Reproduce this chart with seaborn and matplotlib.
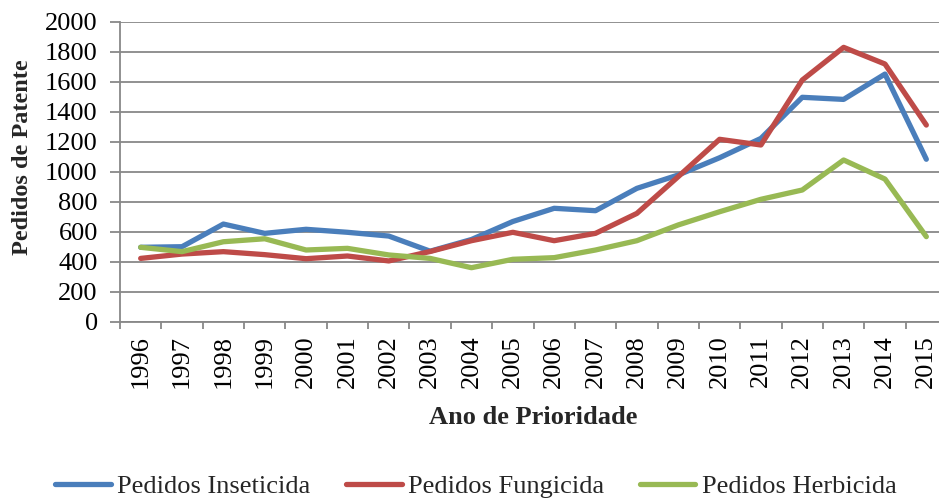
import matplotlib
matplotlib.use("Agg")
import matplotlib.pyplot as plt
import seaborn as sns
import pandas as pd
import numpy as np
from matplotlib.ticker import FixedLocator, MultipleLocator

years = ["1996", "1997", "1998", "1999", "2000", "2001", "2002", "2003", "2004", "2005",
         "2006", "2007", "2008", "2009", "2010", "2011", "2012", "2013", "2014", "2015"]
inseticida = [496, 500, 651, 589, 616, 596, 571, 470, 548, 668,
              756, 740, 889, 978, 1093, 1222, 1496, 1482, 1651, 1083]
fungicida = [422, 451, 467, 447, 420, 438, 405, 468, 540, 596,
             540, 589, 722, 967, 1216, 1178, 1611, 1829, 1718, 1311]
herbicida = [496, 467, 533, 553, 478, 489, 445, 422, 360, 416,
             427, 478, 540, 645, 733, 816, 878, 1078, 951, 567]
series_names = ["Pedidos Inseticida", "Pedidos Fungicida", "Pedidos Herbicida"]
colors = ["#4A7EBB", "#BE4B48", "#98B954"]

df = pd.DataFrame({
    "pos": list(range(len(years))) * 3,
    "valor": inseticida + fungicida + herbicida,
    "serie": [series_names[0]] * len(years) + [series_names[1]] * len(years) + [series_names[2]] * len(years),
})

sns.set_theme(style="white")
plt.rcParams["font.family"] = ["Liberation Serif", "DejaVu Serif"]

fig = plt.figure(figsize=(9.39, 4.98), dpi=100)
ax = fig.add_axes([120 / 939, 176.3 / 498, 827 / 939, 300 / 498])

grid_c = "#888888"
sns.lineplot(data=df, x="pos", y="valor", hue="serie", palette=colors,
             linewidth=3.8, ax=ax, legend=False, zorder=3)

ax.set_xlim(-0.5, len(years) - 0.5)
ax.set_ylim(0, 2000)
ax.yaxis.set_major_locator(MultipleLocator(200))
ax.grid(axis="y", color=grid_c, linewidth=1.3)
ax.set_axisbelow(True)

ax.xaxis.set_major_locator(FixedLocator(range(len(years))))
ax.set_xticklabels(years, rotation=90, fontsize=19, va="top")
ax.xaxis.set_minor_locator(FixedLocator(np.arange(-0.5, len(years), 1.0)))
ax.tick_params(axis="x", which="major", length=0, pad=9.5, colors="black")
ax.tick_params(axis="x", which="minor", length=5, width=1.3, color=grid_c, bottom=True)
ax.tick_params(axis="y", which="major", length=7, width=1.3, color=grid_c, pad=9,
               labelsize=19, left=True, labelcolor="black")

for s in ["top", "right"]:
    ax.spines[s].set_visible(False)
for s in ["left", "bottom"]:
    ax.spines[s].set_color(grid_c)
    ax.spines[s].set_linewidth(1.3)

ax.set_xlabel("Ano de Prioridade", fontsize=19, fontweight="bold")
ax.xaxis.set_label_coords(0.5, -0.318)
ax.xaxis.label.set_va("center")
ax.set_ylabel("Pedidos de Patente", fontsize=17.5, fontweight="bold")
ax.yaxis.set_label_coords(-0.1185, 0.549)
ax.yaxis.label.set_va("center")

handles = [plt.Line2D([], [], color=c, linewidth=3.8, solid_capstyle="round") for c in colors]
fig.legend(handles, series_names, loc="center", bbox_to_anchor=(0.507, 0.024), ncol=3,
           frameon=False, fontsize=19, handlelength=2.1, handletextpad=0.25,
           columnspacing=1.35, borderaxespad=0, borderpad=0)

fig.savefig("out.png", dpi=100)
